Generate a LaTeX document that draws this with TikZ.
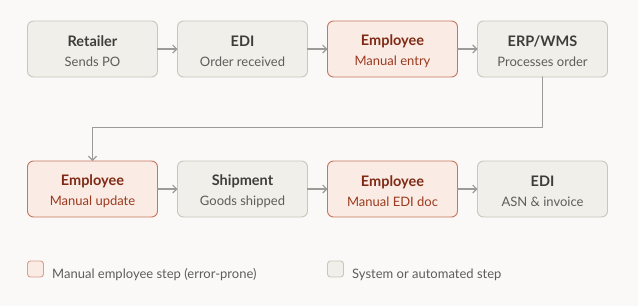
\documentclass[tikz,border=0pt]{standalone}
\usepackage{fontspec}
\setmainfont{Lato}
\usetikzlibrary{positioning,arrows.meta}
\definecolor{bgcol}{HTML}{FAF9F7}
\definecolor{sysfill}{HTML}{F1EFE9}
\definecolor{sysdraw}{HTML}{C9C6BE}
\definecolor{systitle}{HTML}{3D3D3A}
\definecolor{syssub}{HTML}{5E5D59}
\definecolor{manfill}{HTML}{FBEBE5}
\definecolor{mandraw}{HTML}{C6765E}
\definecolor{mantitle}{HTML}{7E2A14}
\definecolor{mansub}{HTML}{9A3A1E}
\definecolor{arrowcol}{HTML}{9C9B98}
\newcommand{\steplabel}[2]{{\fontsize{14.5}{20}\selectfont\bfseries\color{titlecol}\rule{0pt}{16pt}#1}\\{#2}}
\tikzset{
  box/.style={rectangle, rounded corners=6pt, minimum width=130pt, minimum height=56pt,
    line width=0.9pt, align=center, inner sep=0pt, outer sep=0pt, font=\fontsize{13}{20}\selectfont},
  sysbox/.style={box, fill=sysfill, draw=sysdraw, text=syssub,
    execute at begin node=\colorlet{titlecol}{systitle}},
  manbox/.style={box, fill=manfill, draw=mandraw, text=mansub,
    execute at begin node=\colorlet{titlecol}{mantitle}},
  flow/.style={draw=arrowcol, line width=1.1pt, -{Straight Barb[length=4pt,width=8pt]}},
  keybox/.style={rectangle, rounded corners=3pt, minimum size=16pt, line width=0.9pt, inner sep=0pt},
  keytext/.style={anchor=base west, inner sep=0pt, text=syssub, font=\fontsize{13}{15}\selectfont},
}
\begin{document}
\begin{tikzpicture}[x=1pt, y=-1pt, node distance=20pt, line join=round, line cap=round]
  \useasboundingbox[fill=bgcol] (0,0) rectangle (638,306);
  % first row
  \node[sysbox] (ret) at (92.5,49) {\steplabel{Retailer}{Sends PO}};
  \node[sysbox, right=of ret] (edi1) {\steplabel{EDI}{Order received}};
  \node[manbox, right=of edi1] (emp1) {\steplabel{Employee}{Manual entry}};
  \node[sysbox, right=of emp1] (erp) {\steplabel{ERP/WMS}{Processes order}};
  % second row
  \node[manbox] (emp2) at (92.5,189) {\steplabel{Employee}{Manual update}};
  \node[sysbox, right=of emp2] (ship) {\steplabel{Shipment}{Goods shipped}};
  \node[manbox, right=of ship] (emp3) {\steplabel{Employee}{Manual EDI doc}};
  \node[sysbox, right=of emp3] (edi2) {\steplabel{EDI}{ASN \& invoice}};
  % connectors
  \foreach \a/\b in {ret/edi1,edi1/emp1,emp1/erp,emp2/ship,ship/emp3,emp3/edi2}
    {\draw[flow] (\a) -- (\b);}
  \draw[flow] (erp.south) -- ++(0,50.5) -| (emp2.north);
  % legend
  \node[keybox, fill=manfill, draw=mandraw!70] (keyman) at (35.5,269) {};
  \node[keytext] (keymantxt) at (52,278) {Manual employee step (error-prone)};
  \node[keybox, fill=sysfill, draw=sysdraw] (keysys) at (335.5,269) {};
  \node[keytext] (keysystxt) at (352,278) {System or automated step};
\end{tikzpicture}
\end{document}
